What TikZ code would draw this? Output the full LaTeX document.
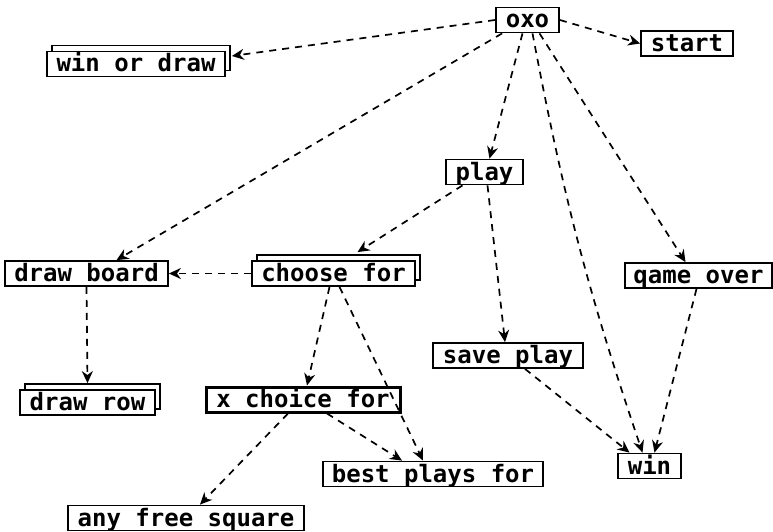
\documentclass[tikz,border=0pt]{standalone}
\usepackage{fontspec}
\setmonofont{DejaVu Sans Mono}
\usepackage{tikz}
\usetikzlibrary{arrows.meta,shadows}

\tikzset{
  box/.style={draw,fill=white,line width=1.8pt,inner sep=0pt,minimum height=25pt,
    font=\ttfamily\bfseries\fontsize{24}{24}\selectfont,text height=20.5pt,text depth=4.5pt},
  stack/.style={box,copy shadow={shadow xshift=5pt,shadow yshift=6pt}},
  calls/.style={dashed,dash pattern=on 7pt off 6pt,line width=1.7pt,-{Stealth[length=12pt,width=11pt]}}
}

\begin{document}
\begin{tikzpicture}[x=1pt,y=-1pt]
\useasboundingbox (0,0) rectangle (773,532);
% modules
\node[box,minimum width=63pt] (oxo) at (527.5,20) {oxo};
\node[box,minimum width=92pt] (start) at (687,43.5) {start};
\node[stack,minimum width=178pt] (winordraw) at (136,64) {win or draw};
\node[box,minimum width=77pt] (play) at (484.5,172) {play};
\node[box,minimum width=163pt] (drawboard) at (86.5,273.5) {draw board};
\node[stack,minimum width=163pt] (choosefor) at (333.5,273.5) {choose for};
\node[box,minimum width=147pt] (gameover) at (698.5,275.5) {qame over};
\node[box,minimum width=150pt] (saveplay) at (508,355.5) {save play};
\node[stack,minimum width=135pt] (drawrow) at (87.5,402.5) {draw row};
\node[box,line width=3pt,minimum width=194pt] (xchoice) at (303,399.5) {x choice for};
\node[box,minimum width=220pt] (bestplays) at (433,474) {best plays for};
\node[box,minimum width=63pt] (win) at (649.5,466) {win};
\node[box,minimum width=236pt] (anyfree) at (186,518) {any free square};
% calls
\draw[calls] (oxo.west) -- ([xshift=6pt,yshift=8pt]winordraw.east);
\draw[calls] (oxo.east) -- (start.west);
\draw[calls] ([xshift=7pt]oxo.south west) -- ([xshift=30pt]drawboard.north);
\draw[calls] ([xshift=-5pt]oxo.south) -- ([xshift=5pt]play.north);
\draw[calls] ([xshift=5pt]oxo.south) to[bend right=4] ([xshift=-7pt]win.north);
\draw[calls] ([xshift=12pt]oxo.south) -- ([xshift=-13pt]gameover.north);
\draw[calls] ([xshift=-22pt]play.south) -- ([xshift=24pt,yshift=8pt]choosefor.north);
\draw[calls] ([xshift=3pt]play.south) -- ([xshift=-3pt]saveplay.north);
\draw[calls] (choosefor.west) -- (drawboard.east);
\draw[calls] ([xshift=-4pt]choosefor.south) -- ([xshift=4pt]xchoice.north);
\draw[calls] ([xshift=6pt]choosefor.south) -- ([xshift=-10pt]bestplays.north);
\draw[calls] (drawboard.south) -- ([yshift=6pt]drawrow.north);
\draw[calls] ([xshift=-15pt]xchoice.south) -- ([xshift=14pt]anyfree.north);
\draw[calls] ([xshift=24pt]xchoice.south) -- ([xshift=-31pt]bestplays.north);
\draw[calls] ([xshift=17pt]saveplay.south) -- ([xshift=-20pt]win.north);
\draw[calls] ([xshift=-2pt]gameover.south) -- ([xshift=5pt]win.north);
\end{tikzpicture}
\end{document}
